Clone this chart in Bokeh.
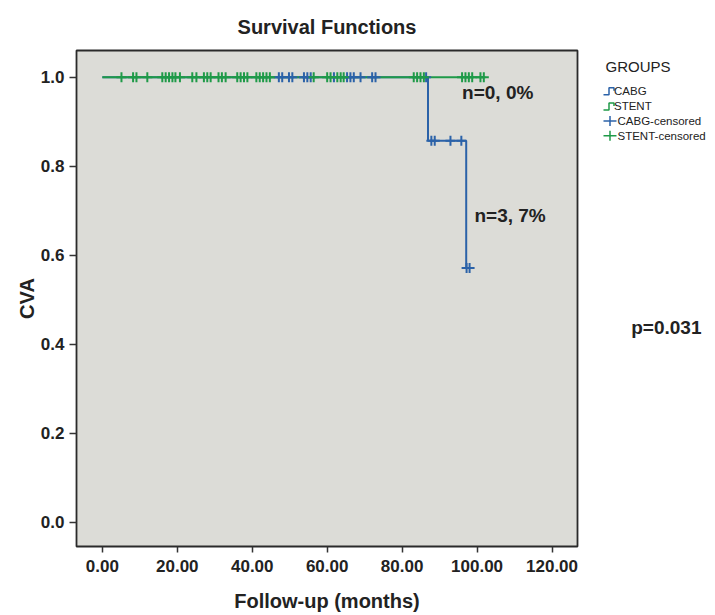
from bokeh.plotting import figure
from bokeh.models import Range1d, FixedTicker, PrintfTickFormatter
from bokeh.layouts import row
from bokeh.core.properties import value
from bokeh.embed import file_html
from bokeh.resources import INLINE

# ---------------- data ----------------
groups = ["CABG", "STENT"]

cabg_times = [0.0, 86.9, 97.1]
cabg_survival = [1.0, 0.857, 0.571]
cabg_last_followup = 98.0

stent_times = [0.0]
stent_survival = [1.0]
stent_last_followup = 101.8

cabg_censored_times = [47.1, 48.0, 49.8, 50.7, 53.8, 54.7, 55.6, 61.8, 65.3,
                       66.2, 67.1, 68.9, 72.0, 72.9, 86.4,
                       87.8, 88.7, 92.9, 95.8, 97.2, 98.0]
stent_censored_times = [5.1, 8.2, 9.1, 12.0, 16.0, 16.9, 17.8, 18.7, 19.5, 20.7,
                        24.0, 25.1, 27.1, 28.0, 28.9, 31.0, 31.9, 32.9, 36.0, 36.9,
                        37.8, 38.7, 41.1, 42.0, 42.9, 43.8, 44.7, 56.4, 60.0, 60.9,
                        62.7, 63.6, 64.4, 83.1, 84.0, 84.9, 85.8, 96.0, 96.9, 97.8,
                        98.7, 100.9, 101.8]

x_ticks = [0, 20, 40, 60, 80, 100, 120]
y_ticks = [0.0, 0.2, 0.4, 0.6, 0.8, 1.0]

chart_title = "Survival Functions"
note_texts = ["n=0, 0%", "n=3, 7%"]
note_x = [96.0, 99.3]
note_y = [0.965, 0.688]
p_value_text = "p=0.031"
legend_title = "GROUPS"
legend_labels = ["CABG", "STENT", "CABG-censored", "STENT-censored"]

# ---------------- styles ----------------
BLUE = "#2b62a8"
GREEN = "#1f9a48"
BG = "#dcdcd7"
INK = "#222222"
FONT = "Liberation Sans"
TOP, BOTTOM = 50, 65
HEIGHT = 614


def step_xy(times, surv, last):
    return list(times) + [last], list(surv) + [surv[-1]]


def surv_at(t, times, surv):
    s = surv[0]
    for ti, si in zip(times, surv):
        if t >= ti:
            s = si
    return s


p = figure(width=589, height=HEIGHT, output_backend="svg", toolbar_location=None,
           x_range=Range1d(-6.9, 126.8), y_range=Range1d(-0.055, 1.060),
           min_border_left=76, min_border_right=12, min_border_top=TOP,
           min_border_bottom=BOTTOM, title=chart_title)
p.background_fill_color = BG
p.border_fill_color = "white"
p.outline_line_color = "#2a2a2a"
p.outline_line_width = 1.8
p.grid.visible = False

p.title.align = "center"
p.title.text_font = FONT
p.title.text_font_size = "20px"
p.title.text_font_style = "bold"
p.title.text_color = INK
p.title.standoff = 25

p.xaxis.ticker = FixedTicker(ticks=x_ticks)
p.yaxis.ticker = FixedTicker(ticks=y_ticks)
p.xaxis.formatter = PrintfTickFormatter(format="%.2f")
p.yaxis.formatter = PrintfTickFormatter(format="%.1f")
p.xaxis.axis_label = "Follow-up (months)"
p.yaxis.axis_label = "CVA"
for ax in (p.xaxis, p.yaxis):
    ax.axis_line_color = None
    ax.major_tick_line_color = "#333333"
    ax.major_tick_line_width = 1.5
    ax.major_tick_in = 0
    ax.minor_tick_line_color = None
    ax.major_label_text_font = FONT
    ax.major_label_text_font_size = "17px"
    ax.major_label_text_font_style = "bold"
    ax.major_label_text_color = INK
    ax.axis_label_text_font = FONT
    ax.axis_label_text_font_size = "20px"
    ax.axis_label_text_font_style = "bold"
    ax.axis_label_text_color = INK
p.xaxis.major_tick_out = 6
p.xaxis.major_label_standoff = 7
p.xaxis.axis_label_standoff = 15
p.yaxis.major_tick_out = 7
p.yaxis.major_label_standoff = 5
p.yaxis.axis_label_standoff = 0

cx, cy = step_xy(cabg_times, cabg_survival, cabg_last_followup)
sx, sy = step_xy(stent_times, stent_survival, stent_last_followup)
p.step(cx, cy, mode="after", line_color=BLUE, line_width=2)
p.step(sx, sy, mode="after", line_color=GREEN, line_width=2)

cabg_cens_y = [surv_at(t, cabg_times, cabg_survival) for t in cabg_censored_times]
stent_cens_y = [surv_at(t, stent_times, stent_survival) for t in stent_censored_times]
p.scatter(cabg_censored_times, cabg_cens_y, marker="cross", size=10,
          line_color=BLUE, line_width=2)
p.scatter(stent_censored_times, stent_cens_y, marker="cross", size=10,
          line_color=GREEN, line_width=2)

p.text(note_x, note_y, text=note_texts, text_font=value(FONT),
       text_font_size="19px", text_font_style="bold", text_color=INK,
       text_baseline="middle", text_align="left")

# ---------------- legend / side panel (page pixel coordinates) ----------------
q = figure(width=121, height=HEIGHT, output_backend="svg", toolbar_location=None,
           x_range=Range1d(589, 710), y_range=Range1d(HEIGHT - BOTTOM, TOP),
           x_axis_location=None, y_axis_location=None,
           min_border_left=0, min_border_right=0,
           min_border_top=TOP, min_border_bottom=BOTTOM)
q.outline_line_color = None
q.grid.visible = False
q.background_fill_color = "white"
q.border_fill_color = "white"

row_y = [91.0, 106.3, 121.0, 135.7]
icon_x0 = 603.0
# step icons
step_icon_x = [icon_x0, icon_x0 + 5.5, icon_x0 + 5.5, icon_x0 + 10.5, icon_x0 + 10.5]
for yy, col in zip(row_y[:2], [BLUE, GREEN]):
    q.line(step_icon_x, [yy + 3.5, yy + 3.5, yy - 3.5, yy - 3.5, yy - 0.5],
           line_color=col, line_width=1.5)
# censored icons
for yy, col in zip(row_y[2:], [BLUE, GREEN]):
    q.segment([icon_x0], [yy], [icon_x0 + 13], [yy], line_color=col, line_width=1.5)
    q.segment([icon_x0 + 6.5], [yy - 5], [icon_x0 + 6.5], [yy + 5], line_color=col,
              line_width=1.5)

q.text([613.5, 613.5, 617.0, 617.0], row_y, text=legend_labels,
       text_font=value(FONT), text_font_size="11.5px", text_color=INK,
       text_baseline="middle", text_align="left")
q.text([605.0], [66.5], text=[legend_title], text_font=value(FONT),
       text_font_size="15px", text_color=INK, text_baseline="middle",
       text_align="left")
q.text([630.7], [328.5], text=[p_value_text], text_font=value(FONT),
       text_font_size="19px", text_font_style="bold", text_color=INK,
       text_baseline="middle", text_align="left")

layout = row(p, q, spacing=0)
open("out.html", "w").write(file_html(layout, INLINE))
